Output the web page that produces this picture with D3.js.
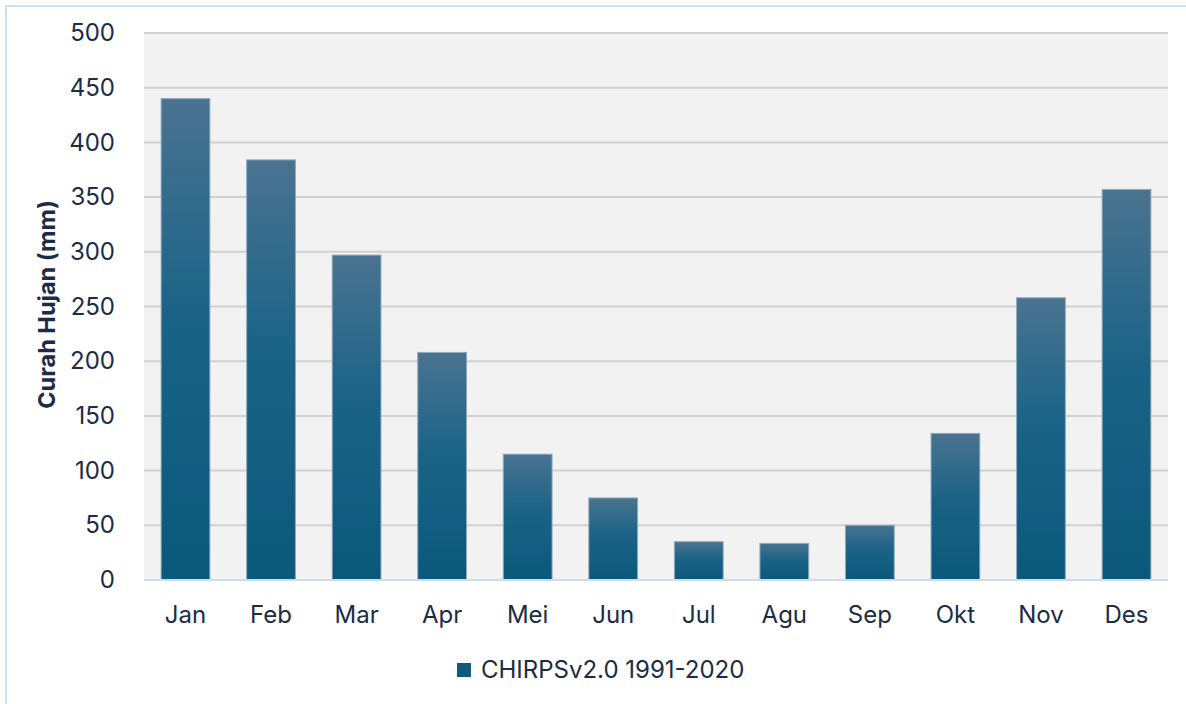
<!DOCTYPE html>
<html>
<head>
<meta charset="utf-8">
<script src="https://cdn.jsdelivr.net/npm/d3@7"></script>
<style>
  body { margin: 0; background: #fff; }
  text { font-family: "Inter", "Liberation Sans", Arial, sans-serif; fill: #1b2c45; }
</style>
</head>
<body>
<div id="chart"></div>
<script>
const months = ["Jan", "Feb", "Mar", "Apr", "Mei", "Jun", "Jul", "Agu", "Sep", "Okt", "Nov", "Des"];
const rainfall = [440, 384, 297, 208, 115, 75, 35, 33.5, 50, 134, 258, 357];
const yTicks = [0, 50, 100, 150, 200, 250, 300, 350, 400, 450, 500];
const seriesName = "CHIRPSv2.0 1991-2020";
const yTitle = "Curah Hujan (mm)";

const W = 1186, H = 704;
const margin = { top: 33, right: 18, bottom: 124, left: 144 };
const width = W - margin.left - margin.right,
      height = H - margin.top - margin.bottom;

const svg = d3.select("#chart").append("svg")
    .attr("width", W)
    .attr("height", H);

// outer frame
svg.append("rect")
    .attr("x", 6).attr("y", 6)
    .attr("width", W + 10).attr("height", H + 10)
    .attr("fill", "none")
    .attr("stroke", "#cfe1f4")
    .attr("stroke-width", 2);

const defs = svg.append("defs");
const grad = defs.append("linearGradient")
    .attr("id", "barGrad")
    .attr("x1", 0).attr("y1", 0).attr("x2", 0).attr("y2", 1);
grad.append("stop").attr("offset", "0%").attr("stop-color", "#4a7390");
grad.append("stop").attr("offset", "45%").attr("stop-color", "#1a6387");
grad.append("stop").attr("offset", "100%").attr("stop-color", "#0b587b");

const g = svg.append("g").attr("transform", "translate(" + margin.left + "," + margin.top + ")");

const x = d3.scaleBand()
    .domain(months)
    .range([0, width])
    .paddingInner(0.43)
    .paddingOuter(0.2);
const y = d3.scaleLinear()
    .domain([0, 500])
    .range([height, 0]);

g.append("rect")
    .attr("width", width)
    .attr("height", height)
    .attr("fill", "#f2f2f2");

// gridlines
g.selectAll(".grid")
    .data(yTicks.filter(d => d > 0))
    .enter()
    .append("line")
    .attr("x1", 0).attr("x2", width)
    .attr("y1", d => y(d)).attr("y2", d => y(d))
    .attr("stroke", "#d0d0d0")
    .attr("stroke-width", 2);

g.selectAll(".bar")
    .data(rainfall)
    .enter()
    .append("rect")
    .attr("x", (d, i) => x(months[i]))
    .attr("y", d => y(d))
    .attr("width", x.bandwidth())
    .attr("height", d => height - y(d))
    .attr("fill", "url(#barGrad)")
    .attr("stroke", "#8fa9bd")
    .attr("stroke-width", 1);

// baseline
g.append("line")
    .attr("x1", 0).attr("x2", width)
    .attr("y1", height).attr("y2", height)
    .attr("stroke", "#cadcf0")
    .attr("stroke-width", 2);

const y_axis = d3.axisLeft(y).tickValues(yTicks).tickSize(0).tickPadding(29);
const ya = g.append("g").call(y_axis);
ya.select(".domain").remove();
ya.selectAll("text").style("font-size", "24px").style("fill", "#1b2c45")
    .style("font-family", "Inter, sans-serif");

const x_axis = d3.axisBottom(x).tickSize(0).tickPadding(26);
const xa = g.append("g").attr("transform", "translate(0," + height + ")").call(x_axis);
xa.select(".domain").remove();
xa.selectAll("text").style("font-size", "24px").style("fill", "#1b2c45")
    .style("font-family", "Inter, sans-serif");

svg.append("text")
    .attr("transform", "rotate(-90)")
    .attr("x", -(margin.top + height / 2) + 2)
    .attr("y", 55)
    .attr("text-anchor", "middle")
    .style("font-size", "23.5px")
    .style("font-weight", "bold")
    .text(yTitle);

// legend
const lg = svg.append("g").attr("transform", "translate(457,663)");
lg.append("rect")
    .attr("width", 14).attr("height", 14)
    .attr("fill", "#0f5a7d");
lg.append("text")
    .attr("x", 24).attr("y", 14.5)
    .style("font-size", "24px")
    .text(seriesName);
</script>
</body>
</html>
